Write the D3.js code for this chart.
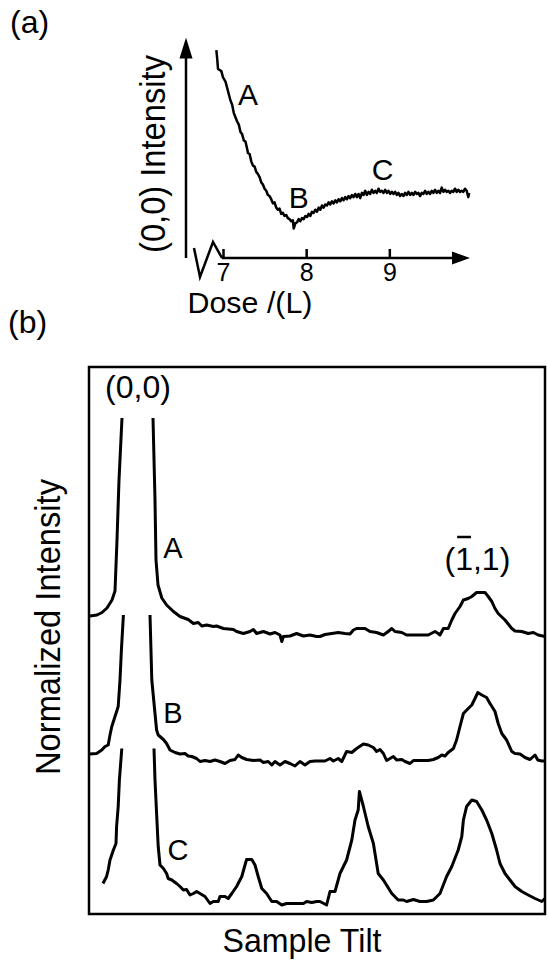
<!DOCTYPE html>
<html>
<head>
<meta charset="utf-8">
<title>(0,0) intensity vs dose and tilt scans</title>
<script src="https://d3js.org/d3.v7.min.js"></script>
<style>
  body { margin: 0; background: #fff; }
  svg text { font-family: "Liberation Sans", Arial, Helvetica, sans-serif; fill: #000; }
</style>
</head>
<body>
<svg id="chart" width="548" height="960"></svg>
<script>
// panel (a): (0,0) intensity against dose
const doseTicks = [7, 8, 9];
const doseCurve = [
  [6.92, 99], [6.93, 95], [6.94, 90], [6.96, 89.5], [6.98, 89], [7.0, 86], [7.03, 84], [7.05, 81],
  [7.07, 78], [7.09, 75], [7.11, 73], [7.13, 69], [7.15, 67], [7.17, 65], [7.19, 63.5], [7.21, 60],
  [7.23, 59], [7.25, 56], [7.27, 55.5], [7.29, 52], [7.30, 50], [7.32, 49.5], [7.34, 46], [7.36, 44],
  [7.38, 43.5], [7.40, 41], [7.42, 40], [7.44, 38.5], [7.46, 36], [7.48, 35], [7.50, 33], [7.52, 32],
  [7.54, 30], [7.56, 29.5], [7.58, 28], [7.60, 26], [7.62, 26.5], [7.64, 24], [7.66, 23], [7.68, 23.5],
  [7.70, 21], [7.72, 21.5], [7.74, 20], [7.76, 20.5], [7.78, 19], [7.80, 18.5], [7.82, 17.5], [7.84, 18],
  [7.85, 14], [7.87, 16.5], [7.89, 17], [7.91, 18.5], [7.93, 17.5], [7.95, 19], [7.97, 18.5], [7.99, 20],
  [8.01, 19.5], [8.03, 21], [8.05, 20], [8.07, 22], [8.09, 21.5], [8.11, 23], [8.13, 22], [8.15, 24],
  [8.17, 23], [8.19, 25], [8.21, 24], [8.23, 25.5], [8.25, 25], [8.27, 26.5], [8.29, 25.5], [8.31, 27],
  [8.33, 26], [8.35, 27.5], [8.37, 26.5], [8.39, 28], [8.41, 27], [8.43, 28.5], [8.45, 27.5], [8.47, 29],
  [8.49, 28], [8.51, 29.5], [8.53, 28.5], [8.55, 30], [8.57, 29], [8.59, 30.5], [8.61, 29], [8.63, 30.5],
  [8.65, 28.5], [8.67, 31], [8.69, 30], [8.71, 32], [8.73, 30], [8.75, 31.5], [8.77, 30.5], [8.79, 32.5],
  [8.81, 31], [8.83, 32], [8.85, 31], [8.87, 33], [8.89, 31.5], [8.91, 32], [8.93, 31], [8.95, 32.5],
  [8.97, 31], [8.99, 32], [9.01, 30.5], [9.03, 31.5], [9.05, 30.5], [9.07, 31.5], [9.09, 30], [9.11, 31],
  [9.13, 29.5], [9.15, 30.5], [9.17, 29.5], [9.19, 31], [9.21, 30], [9.23, 31.5], [9.25, 30], [9.27, 31],
  [9.29, 30], [9.31, 31.5], [9.33, 30.5], [9.35, 31], [9.37, 29.5], [9.39, 31], [9.41, 30.5], [9.43, 32],
  [9.45, 30.5], [9.47, 31.5], [9.49, 30.5], [9.51, 32], [9.53, 31], [9.55, 32.5], [9.57, 31], [9.59, 32],
  [9.61, 31], [9.63, 33.5], [9.65, 31.5], [9.67, 32.5], [9.69, 31.5], [9.71, 32], [9.73, 31], [9.75, 32],
  [9.77, 31.5], [9.79, 33], [9.81, 31.5], [9.83, 32.5], [9.85, 31.5], [9.87, 32], [9.89, 31.5], [9.91, 33],
  [9.93, 32], [9.95, 29], [9.96, 31]
];

// panel (b): tilt scans, [tilt, intensity]; null marks the clipped (0,0) peak
const tiltCurveA = [
  [0.25, 5.6], [2, 5.8], [3.25, 6.3], [4.5, 7.2], [5.75, 8.8], [6.5, 10.6], [7, 20.8], [7.5, 32.8], [8.25, 45.2],
  [12, null],
  [16, 45.2], [16.5, 28.8], [16.75, 16.8], [17.25, 11.8], [18.2, 9.2], [19.4, 7.8], [21.1, 6.5], [22.75, 5.5],
  [24.8, 4.9], [26.1, 4.1], [27.3, 4.3], [28.2, 3.6], [29.4, 3.8], [31.1, 3.5], [31.9, 3.6], [33.6, 3.1],
  [36.1, 2.9], [36.9, 2.5], [38.6, 2.1], [40.25, 2.5], [41.1, 2.9], [41.9, 2.1], [43.6, 2.5], [45.25, 2.0],
  [46.5, 2.3], [47.75, 1.8], [48.2, 0.5], [48.6, 1.5], [50.25, 1.6], [51.9, 2.1], [53.6, 1.6], [55.25, 1.8],
  [56.9, 1.5], [57.75, 1.5], [59, 1.9], [60.7, 2.1], [62.3, 2.3], [64, 2.1], [65.25, 2.0], [66.1, 2.8],
  [66.9, 3.1], [69, 3.1], [70.25, 2.5], [71.9, 2.3], [73.6, 1.8], [74.8, 2.5], [75.7, 3.1], [76.5, 2.5],
  [78.2, 2.3], [79.4, 1.8], [81.5, 1.8], [84.8, 1.8], [86.5, 2.5], [87.3, 2.1], [87.75, 1.8], [88.6, 3.1],
  [89.8, 3.1], [90.7, 4.8], [91.5, 6.1], [92.75, 7.5], [93.6, 8.8], [94.8, 9.1], [95.7, 9.5], [96.9, 10.3],
  [99, 10.3], [99.8, 9.5], [100.7, 8.5], [101.5, 7.1], [102.3, 6.1], [104, 4.8], [105.7, 3.1], [106.5, 2.6],
  [108.2, 2.5], [109.8, 2.1], [111.1, 2.3], [112.3, 1.8], [114, 1.5]
];
const tiltCurveB = [
  [0.25, 4.0], [1.9, 4.1], [3.2, 4.8], [4, 5.5], [4.8, 5.8], [5.25, 7.8], [5.7, 9.5], [6.5, 11.5],
  [7.3, 13.5], [7.75, 18.8], [8.1, 24.8], [8.6, 31.8],
  [12, null],
  [15.25, 31.8], [15.7, 18.8], [16.5, 12.1], [16.9, 8.8], [17.3, 7.8], [18.6, 6.9], [19.4, 6.1], [20.25, 4.8],
  [21.5, 4.3], [22.75, 4.0], [24, 4.1], [24.8, 3.6], [25.7, 3.5], [26.9, 3.1], [27.75, 2.5], [29, 2.7],
  [30.25, 2.5], [31.5, 2.8], [32.75, 2.5], [34, 2.1], [35.25, 2.7], [36.5, 2.9], [37.3, 3.8], [38.2, 3.3],
  [39.4, 2.9], [41.1, 2.7], [42.75, 2.8], [43.6, 2.3], [44.8, 2.5], [45.7, 1.8], [46.5, 2.5], [47.75, 1.8],
  [49, 2.5], [50.25, 2.1], [51.5, 1.6], [52.75, 2.5], [54, 1.8], [55.25, 2.5], [56.5, 2.6], [59, 2.6],
  [60.25, 3.1], [61.1, 2.6], [62.3, 3.1], [63.2, 2.5], [64.4, 4.5], [65.7, 4.3], [66.9, 5.1], [68.6, 6.0],
  [69.8, 5.8], [71.1, 5.3], [71.9, 4.5], [72.75, 4.9], [73.6, 4.1], [74.4, 2.7], [75.25, 3.1], [76.1, 3.5],
  [76.9, 2.8], [78.2, 2.9], [79, 2.5], [80.25, 2.1], [81.1, 2.7], [84.8, 2.7], [86.1, 2.9], [87.3, 3.3],
  [88.2, 3.8], [89, 3.6], [89.8, 4.3], [91.1, 5.1], [91.9, 6.8], [92.75, 9.5], [93.6, 12.1], [94.8, 13.1],
  [95.7, 13.8], [96.5, 15.1], [97.2, 16.3], [98.2, 15.8], [99.4, 15.3], [100.25, 14.1], [101.5, 12.5],
  [102.3, 10.1], [103.2, 8.1], [104.4, 6.8], [105.7, 4.5], [106.5, 4.1], [107.75, 4.0], [109, 3.3],
  [110.25, 2.9], [111.5, 3.8], [112.2, 2.8], [113.2, 2.6], [114, 2.6]
];
const tiltCurveC = [
  [3.5, 6.1], [3.75, 6.5], [4.4, 7.5], [4.8, 8.8], [5.25, 10.8], [6.1, 12.8], [6.75, 14.1], [6.9, 17.5],
  [7.3, 21.5], [7.6, 26.8], [8.2, 33.1],
  [12, null],
  [16.25, 33.1], [16.5, 26.8], [16.9, 20.1], [17.3, 13.5], [17.75, 9.8], [18.6, 9.1], [19.4, 8.1], [19.8, 7.1],
  [20.7, 6.8], [21.9, 6.1], [22.75, 5.5], [23.6, 4.8], [24.4, 4.9], [25.25, 3.8], [26.1, 4.1], [26.9, 4.5],
  [27.75, 4.1], [29, 3.5], [30.25, 2.1], [31.1, 2.5], [32.3, 2.5], [32.75, 3.5], [34, 3.5], [34.8, 3.1],
  [35.7, 4.1], [36.9, 5.5], [38.2, 7.5], [39, 9.8], [39.4, 10.9], [40.7, 10.9], [41.5, 9.8], [42.3, 7.5],
  [43.2, 5.1], [44.4, 4.1], [45.7, 2.5], [46.9, 2.5], [48.2, 1.8], [49.4, 2.1], [53.6, 2.1], [54.4, 2.5],
  [55.7, 2.3], [56.9, 2.5], [57.75, 2.5], [59.4, 1.8], [60.25, 4.5], [61.5, 4.5], [62.75, 8.1], [64.4, 10.8],
  [65.7, 14.8], [66.5, 18.8], [67.3, 20.8], [67.6, 24.5], [68.6, 21.5], [69.8, 17.5], [71.1, 14.1],
  [72.3, 8.1], [73.6, 6.8], [75.7, 4.1], [77.3, 2.8], [78.6, 2.8], [79.4, 2.5], [81.1, 2.9], [82.75, 2.5],
  [84.4, 2.5], [86.1, 2.8], [87.75, 4.1], [89.4, 7.5], [90.7, 9.5], [92.3, 12.8], [93.2, 15.5], [93.6, 18.8],
  [94.4, 21.5], [95.7, 22.8], [96.9, 22.5], [98.2, 20.8], [99.4, 18.8], [100.7, 16.1], [101.9, 12.8],
  [102.75, 10.1], [104, 8.1], [105.25, 6.8], [106.5, 5.5], [108.2, 4.5], [109.8, 3.8], [111.5, 3.1],
  [113.2, 2.5], [114, 3.1]
];
const tiltCurves = [tiltCurveA, tiltCurveB, tiltCurveC];
const curveNames = ['A', 'B', 'C'];
const curveOffsets = [54, 28, 0];

const svg = d3.select('#chart');

// ---------- panel (a) ----------
const xA = d3.scaleLinear().domain([7, 9.97]).range([223, 470]);
const yA = d3.scaleLinear().domain([0, 105]).range([258, 37.5]);
const axisX = 186;
const gA = svg.append('g');

// vertical axis with arrow
gA.append('line')
  .attr('x1', axisX).attr('x2', axisX)
  .attr('y1', yA(0)).attr('y2', yA(105) + 18)
  .attr('stroke', '#000').attr('stroke-width', 2.5);
gA.append('path')
  .attr('d', `M${axisX},${yA(105)} L${axisX - 6.5},${yA(105) + 21} L${axisX + 6.5},${yA(105) + 21} Z`)
  .attr('fill', '#000');

// horizontal axis with arrow
gA.append('line')
  .attr('x1', xA(7) - 1).attr('x2', xA.range()[1] - 16)
  .attr('y1', yA(0)).attr('y2', yA(0))
  .attr('stroke', '#000').attr('stroke-width', 2.5);
gA.append('path')
  .attr('d', `M${xA.range()[1]},${yA(0)} L${xA.range()[1] - 18},${yA(0) - 6.5} L${xA.range()[1] - 18},${yA(0) + 6.5} Z`)
  .attr('fill', '#000');

// axis break zigzag
gA.append('polyline')
  .attr('points', `194,248 200,277 213,242 ${xA(7) - 1},${yA(0)}`)
  .attr('fill', 'none').attr('stroke', '#000').attr('stroke-width', 2.5)
  .attr('stroke-linejoin', 'miter');

const xAxisA = d3.axisBottom(xA)
  .tickValues(doseTicks)
  .tickSize(-9)
  .tickSizeOuter(0)
  .tickPadding(5)
  .tickFormat(d3.format('d'));
gA.append('g')
  .attr('transform', `translate(0,${yA(0)})`)
  .call(xAxisA)
  .call(g => g.select('.domain').remove())
  .call(g => g.selectAll('.tick line').attr('stroke-width', 2.5))
  .call(g => g.selectAll('.tick text').attr('font-size', 25).attr('font-family', null));

gA.append('path')
  .datum(doseCurve)
  .attr('fill', 'none').attr('stroke', '#000').attr('stroke-width', 2.5)
  .attr('stroke-linejoin', 'round')
  .attr('d', d3.line().x(d => xA(d[0])).y(d => yA(d[1])));

const doseLabels = [['A', 7.30, 73], ['B', 7.91, 24], ['C', 8.92, 37]];
gA.selectAll('.dose-label')
  .data(doseLabels)
  .enter().append('text')
  .attr('class', 'dose-label')
  .attr('x', d => xA(d[1])).attr('y', d => yA(d[2]))
  .attr('text-anchor', 'middle').attr('font-size', 30)
  .text(d => d[0]);

gA.append('text').attr('x', 10).attr('y', 33).attr('font-size', 32).text('(a)');
gA.append('text')
  .attr('transform', 'translate(165,154) rotate(-90)')
  .attr('text-anchor', 'middle').attr('font-size', 35)
  .attr('textLength', 198).attr('lengthAdjust', 'spacingAndGlyphs')
  .text('(0,0) Intensity');
gA.append('text')
  .attr('x', 250).attr('y', 313)
  .attr('text-anchor', 'middle').attr('font-size', 30)
  .attr('textLength', 125).attr('lengthAdjust', 'spacingAndGlyphs')
  .text('Dose /(L)');

// ---------- panel (b) ----------
const xB = d3.scaleLinear().domain([0, 114]).range([89, 545]);
const yB = d3.scaleLinear().domain([0, 109.4]).range([914, 367]);
const gB = svg.append('g');

gB.append('rect')
  .attr('x', xB(0)).attr('y', yB(109.4))
  .attr('width', xB(114) - xB(0)).attr('height', yB(0) - yB(109.4))
  .attr('fill', 'none').attr('stroke', '#000').attr('stroke-width', 2.5);

tiltCurves.forEach((curve, i) => {
  const off = curveOffsets[i];
  gB.append('path')
    .datum(curve)
    .attr('fill', 'none').attr('stroke', '#000').attr('stroke-width', 3)
    .attr('stroke-linejoin', 'round')
    .attr('d', d3.line()
      .defined(d => d[1] !== null)
      .x(d => xB(d[0]))
      .y(d => yB(d[1] + off)));
});

const curveLabelPos = [[21, 71.2], [21, 38.2], [22.25, 10.8]];
gB.selectAll('.curve-label')
  .data(curveNames)
  .enter().append('text')
  .attr('class', 'curve-label')
  .attr('x', (d, i) => xB(curveLabelPos[i][0]))
  .attr('y', (d, i) => yB(curveLabelPos[i][1]))
  .attr('text-anchor', 'middle').attr('font-size', 29)
  .text(d => d);

gB.append('text')
  .attr('x', xB(12.25)).attr('y', yB(103.2))
  .attr('text-anchor', 'middle').attr('font-size', 32)
  .text('(0,0)');

const spot = gB.append('text')
  .attr('x', xB(97.1)).attr('y', yB(68.8))
  .attr('text-anchor', 'middle').attr('font-size', 32)
  .text('(1,1)');
// overbar on the first index
const ext = spot.node().getExtentOfChar(1);
gB.append('line')
  .attr('x1', ext.x + 2).attr('x2', ext.x + ext.width - 2)
  .attr('y1', yB(68.8) - 33).attr('y2', yB(68.8) - 33)
  .attr('stroke', '#000').attr('stroke-width', 2.5);

gB.append('text').attr('x', 8).attr('y', 333).attr('font-size', 32).text('(b)');
gB.append('text')
  .attr('transform', 'translate(60,627) rotate(-90)')
  .attr('text-anchor', 'middle').attr('font-size', 35)
  .attr('textLength', 296).attr('lengthAdjust', 'spacingAndGlyphs')
  .text('Normalized Intensity');
gB.append('text')
  .attr('x', 302).attr('y', 952)
  .attr('text-anchor', 'middle').attr('font-size', 33)
  .attr('textLength', 159).attr('lengthAdjust', 'spacingAndGlyphs')
  .text('Sample Tilt');
</script>
</body>
</html>
